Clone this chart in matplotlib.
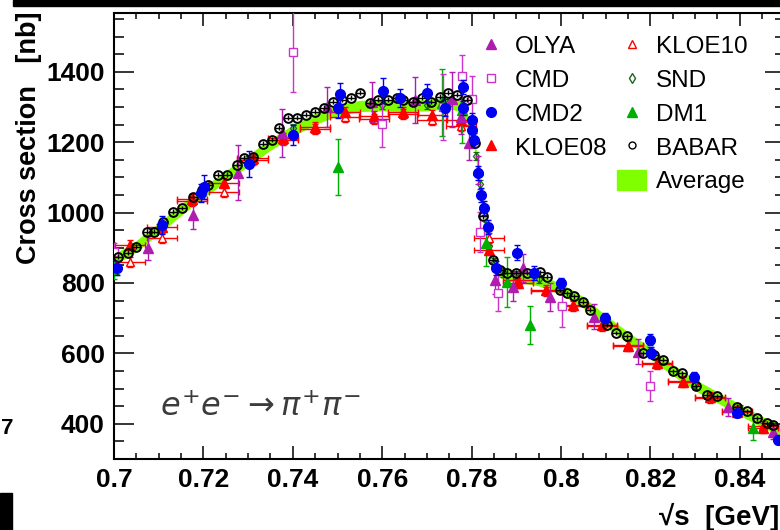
import matplotlib
matplotlib.use('Agg')
import matplotlib.pyplot as plt
from matplotlib.lines import Line2D
from matplotlib.patches import Patch, Rectangle
from matplotlib.ticker import MultipleLocator, FuncFormatter

plt.rcParams['font.family'] = ['Liberation Sans', 'DejaVu Sans']

# ---- data ----
avg_x = [0.700, 0.705, 0.710, 0.715, 0.720, 0.725, 0.730, 0.735, 0.740, 0.745,
         0.750, 0.755, 0.760, 0.765, 0.770, 0.775, 0.778, 0.780, 0.781, 0.782,
         0.783, 0.784, 0.785, 0.786, 0.788, 0.790, 0.795, 0.800, 0.805, 0.810,
         0.815, 0.820, 0.825, 0.830, 0.835, 0.840, 0.845, 0.850]
avg_y = [866, 905, 955, 1008, 1058, 1103, 1148, 1193, 1233, 1266,
         1291, 1303, 1305, 1303, 1305, 1312, 1300, 1235, 1165, 1065,
         985, 905, 855, 833, 822, 818, 808, 783, 745, 692,
         645, 600, 553, 510, 475, 440, 405, 377]
avg_halfwidth = 16

babar_x = [0.7009, 0.7031, 0.7050, 0.7074, 0.7090, 0.7110, 0.7132, 0.7152, 0.7177, 0.7197,
           0.7210, 0.7233, 0.7253, 0.7275, 0.7290, 0.7310, 0.7333, 0.7353, 0.7370, 0.7390,
           0.7410, 0.7430, 0.7450, 0.7470, 0.7490, 0.7510, 0.7530, 0.7550, 0.7573, 0.7590,
           0.7613, 0.7633, 0.7647, 0.7670, 0.7690, 0.7710, 0.7730, 0.7747, 0.7767, 0.7790,
           0.7808, 0.7826, 0.7848, 0.7864, 0.7880, 0.7900, 0.7924, 0.7953, 0.7968, 0.7998,
           0.8013, 0.8028, 0.8050, 0.8065, 0.8102, 0.8124, 0.8147, 0.8184, 0.8207, 0.8229,
           0.8251, 0.8270, 0.8303, 0.8326, 0.8348, 0.8393, 0.8416, 0.8438, 0.8460, 0.8475]
babar_y = [874, 886, 903, 945, 945, 974, 1002, 1013, 1045, 1065,
           1079, 1107, 1107, 1136, 1156, 1159, 1195, 1207, 1241, 1269,
           1269, 1278, 1286, 1298, 1315, 1320, 1326, 1340, 1312, 1320,
           1320, 1326, 1320, 1315, 1326, 1315, 1329, 1340, 1335, 1320,
           1198, 990, 866, 837, 829, 829, 829, 830, 818, 781,
           771, 762, 747, 724, 681, 658, 648, 601, 596, 582,
           549, 544, 506, 482, 478, 449, 435, 416, 402, 397]

kloe_x = [0.7036, 0.7107, 0.7174, 0.7246, 0.7310, 0.7378, 0.7450, 0.7517, 0.7582, 0.7647,
          0.7711, 0.7776, 0.7839, 0.7904, 0.7966, 0.8027, 0.8092, 0.8150, 0.8215, 0.8273,
          0.8333, 0.8394, 0.8452]
kloe08_y = [909, 960, 1039, 1085, 1156, 1213, 1244, 1286, 1275, 1286,
            1278, 1264, 894, 800, 781, 738, 681, 622, 573, 519,
            477, 434, 389]
kloe10_y = [860, 928, 1032, 1059, 1150, 1205, 1238, 1272, 1266, 1280,
            1264, 1245, 928, 808, 776, 735, 677, 625, 571, 522,
            474, 437, 393]
kloe_xerr = 0.0034
kloe_yerr = 14

cmd2_x = [0.7007, 0.7107, 0.7195, 0.7201, 0.7302, 0.7400, 0.7501, 0.7505, 0.7602, 0.7640,
          0.7700, 0.7740, 0.7781, 0.7780, 0.7800, 0.7802, 0.7805, 0.7815, 0.7820, 0.7827,
          0.7836, 0.7855, 0.7902, 0.7940, 0.8000, 0.8098, 0.8200, 0.8202, 0.8297, 0.8394, 0.8486]
cmd2_y = [843, 965, 1055, 1073, 1139, 1221, 1298, 1338, 1346, 1326,
          1340, 1298, 1357, 1298, 1264, 1236, 1207, 1113, 1050, 1014,
          960, 843, 886, 829, 800, 701, 639, 602, 534, 431, 355]
cmd2_err = [20, 25, 25, 35, 37, 28, 30, 30, 35, 25,
            25, 25, 20, 20, 20, 20, 20, 20, 20, 20,
            20, 20, 22, 20, 15, 15, 15, 15, 12, 12, 12]

olya_x = [0.7076, 0.7177, 0.7277, 0.7376, 0.7477, 0.7577, 0.7673, 0.7756, 0.7776, 0.7794,
          0.7815, 0.7852, 0.7893, 0.7915, 0.7975, 0.8074, 0.8172, 0.8374, 0.8474]
olya_y = [900, 994, 1113, 1227, 1300, 1314, 1320, 1322, 1272, 1198,
          1122, 809, 790, 843, 761, 704, 605, 448, 377]
olya_err = [35, 40, 78, 68, 58, 58, 66, 78, 50, 50,
            40, 40, 40, 40, 40, 35, 35, 25, 20]

cmd_x = [0.7000, 0.7400, 0.7600, 0.7735, 0.7778, 0.7800, 0.7819, 0.7860, 0.8002, 0.8200]
cmd_y = [889, 1457, 1252, 1300, 1389, 1323, 946, 772, 735, 508]
cmd_err = [25, 115, 65, 95, 60, 65, 57, 51, 60, 43]

dm1_x = [0.7000, 0.7501, 0.7734, 0.7778, 0.7832, 0.7880, 0.7930, 0.8430]
dm1_y = [837, 1130, 1312, 1292, 914, 803, 681, 389]
dm1_err = [25, 80, 95, 95, 65, 70, 55, 35]

snd_x = [0.7100, 0.7200, 0.7300, 0.7400, 0.7500, 0.7600, 0.7700, 0.7750, 0.7780, 0.7800,
         0.7810, 0.7818, 0.7825, 0.7832, 0.7840, 0.7850, 0.7870, 0.7900, 0.7950, 0.8000,
         0.8100, 0.8200, 0.8300, 0.8400]
snd_y = [955, 1060, 1150, 1240, 1295, 1305, 1305, 1315, 1300, 1240,
         1160, 1080, 1020, 960, 905, 860, 830, 822, 812, 785,
         690, 605, 510, 440]
snd_err = 12

# ---- figure ----
fig = plt.figure(figsize=(7.8, 5.3), dpi=100)
ax = fig.add_axes([114 / 780, 71 / 530, 670.5 / 780, 446 / 530])

c_avg = '#80ff00'
c_olya = '#b01cb0'
c_cmd = '#cc33cc'
c_cmd2 = '#0000f0'
c_kloe = '#ff0000'
c_snd = '#1a661a'
c_dm1 = '#00b000'

ax.fill_between(avg_x, [v - avg_halfwidth for v in avg_y], [v + avg_halfwidth for v in avg_y],
                color=c_avg, lw=0, zorder=1)

eb = dict(linestyle='none', elinewidth=1.0, capsize=2.5, capthick=1.0)
ax.errorbar(snd_x, snd_y, yerr=snd_err, fmt='d', ms=4.5, mfc='none', mec=c_snd, ecolor=c_snd,
            mew=0.9, zorder=3, **eb)
ax.errorbar(kloe_x, kloe10_y, xerr=kloe_xerr, yerr=kloe_yerr, fmt='^', ms=6, mfc='white',
            mec=c_kloe, ecolor=c_kloe, mew=1.0, zorder=3, **eb)
ax.errorbar(kloe_x, kloe08_y, xerr=kloe_xerr, yerr=kloe_yerr, fmt='^', ms=7, color=c_kloe,
            zorder=4, **eb)
ax.errorbar(dm1_x, dm1_y, yerr=dm1_err, fmt='^', ms=7, color=c_dm1, zorder=4, **eb)
ax.errorbar(olya_x, olya_y, yerr=olya_err, fmt='^', ms=7, color=c_olya, zorder=4, **eb)
ax.errorbar(cmd_x, cmd_y, yerr=cmd_err, fmt='s', ms=6, mfc='white', mec=c_cmd, ecolor=c_cmd,
            mew=1.0, zorder=4, **eb)
ax.errorbar(babar_x, babar_y, yerr=7, xerr=0.0009, fmt='o', ms=6.3, mfc='none', mec='black',
            ecolor='black', mew=1.4, linestyle='none', elinewidth=1.0, zorder=5)
ax.errorbar(cmd2_x, cmd2_y, yerr=cmd2_err, fmt='o', ms=7, color=c_cmd2, zorder=6, **eb)

ax.set_xlim(0.7, 0.85)
ax.set_ylim(300, 1567)
ax.xaxis.set_major_locator(MultipleLocator(0.02))
ax.xaxis.set_minor_locator(MultipleLocator(0.005))
ax.yaxis.set_major_locator(MultipleLocator(200))
ax.yaxis.set_minor_locator(MultipleLocator(50))
ax.xaxis.set_major_formatter(FuncFormatter(lambda v, p: '%g' % round(v, 3)))
ax.yaxis.set_major_formatter(FuncFormatter(lambda v, p: '%d' % v))
for s in ax.spines.values():
    s.set_linewidth(1.5)
ax.tick_params(axis='both', which='both', direction='in', top=True, right=True, width=1.1)
ax.tick_params(axis='y', which='major', length=14.5, pad=6.5)
ax.tick_params(axis='y', which='minor', length=7.2)
ax.tick_params(axis='x', which='major', length=9.4, pad=6.5)
ax.tick_params(axis='x', which='minor', length=4.5)
for lab in ax.get_xticklabels() + ax.get_yticklabels():
    lab.set_fontsize(19)
    lab.set_fontweight('bold')

fig.text(29 / 780, 1 - 12 / 530, 'Cross section   [nb]', rotation=90, ha='center', va='top',
         fontsize=19.5, fontweight='bold')
fig.text(779 / 780, 1 - 517 / 530, '\u221as  [GeV]', ha='right', va='center',
         fontsize=20, fontweight='bold')
fig.text(160 / 780, 1 - 408 / 530, r'$e^{+}e^{-} \rightarrow \pi^{+}\pi^{-}$', ha='left',
         va='center', fontsize=23, color='#3c3c3c')

# bits of the neighbouring panels
fig.patches.append(Rectangle((13 / 780, 1 - 6 / 530), 1, 6 / 530, transform=fig.transFigure,
                             color='black'))
fig.patches.append(Rectangle((0, 0), 12 / 780, 37 / 530, transform=fig.transFigure, color='black'))
fig.text(0.5 / 780, 1 - 428 / 530, '7', ha='left', va='center', fontsize=16, fontweight='bold')

handles = [
    Line2D([], [], ls='none', marker='^', ms=7, color=c_olya),
    Line2D([], [], ls='none', marker='s', ms=6, mfc='white', mec=c_cmd),
    Line2D([], [], ls='none', marker='o', ms=7, color=c_cmd2),
    Line2D([], [], ls='none', marker='^', ms=7, color=c_kloe),
    Line2D([], [], ls='none'),
    Line2D([], [], ls='none', marker='^', ms=5.5, mfc='white', mec=c_kloe),
    Line2D([], [], ls='none', marker='d', ms=5, mfc='white', mec=c_snd),
    Line2D([], [], ls='none', marker='^', ms=7, color=c_dm1),
    Line2D([], [], ls='none', marker='o', ms=5, mfc='white', mec='black'),
    Patch(color=c_avg),
]
labels = ['OLYA', 'CMD', 'CMD2', 'KLOE08', '', 'KLOE10', 'SND', 'DM1', 'BABAR', 'Average']
ax.legend(handles, labels, ncol=2, loc='upper left', bbox_to_anchor=(476 / 780, 1 - 35 / 530),
          bbox_transform=fig.transFigure, frameon=False, fontsize=17.5, handlelength=1.2,
          handleheight=0.9, handletextpad=0.4, columnspacing=0.45, labelspacing=0.42,
          borderpad=0, borderaxespad=0)

fig.savefig('out.png', dpi=100)
